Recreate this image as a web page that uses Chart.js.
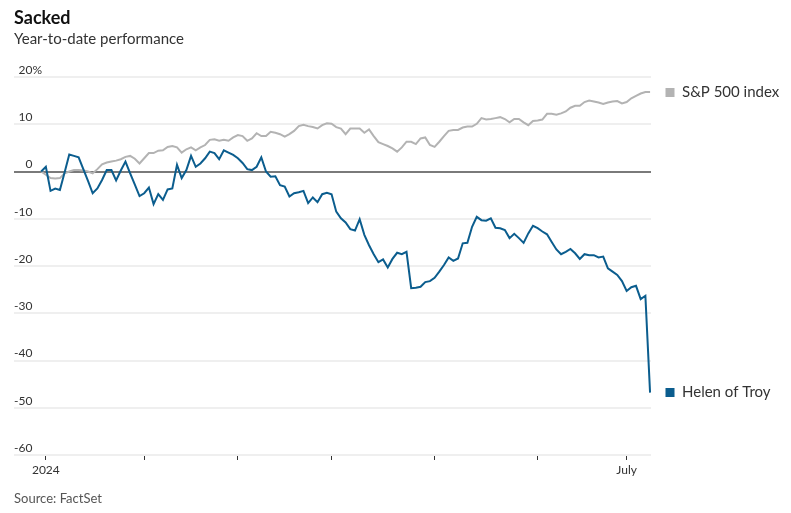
<!DOCTYPE html>
<html><head><meta charset="utf-8">
<script src="https://cdn.jsdelivr.net/npm/chart.js@4"></script>
<style>
html,body{margin:0;padding:0;background:#fff;}
#wrap{position:relative;width:791px;height:513px;overflow:hidden;font-family:Lato,sans-serif;}
canvas{position:absolute;left:0;top:0;}
.t{position:absolute;left:14px;white-space:nowrap;line-height:1;}
#title{top:8px;font-size:18px;font-weight:700;color:#111;}
#sub{top:31px;font-size:15px;color:#333;}
#src{top:492px;font-size:13px;color:#555;}
</style></head><body>
<div id="wrap">
<canvas id="c" width="791" height="513"></canvas>
<div class="t" id="title">Sacked</div>
<div class="t" id="sub">Year-to-date performance</div>
<div class="t" id="src">Source: FactSet</div>
</div>
<script>
// Trading days from Dec 29, 2023 (index 0) to Jul 9, 2024 (index 130)
const helenOfTroy = [
  0, 1.0, -4.1, -3.6, -3.9, -0.2, 3.6, 3.3, 3.0, 0.5,
  -2.0, -4.6, -3.6, -1.8, 0.3, 0.3, -1.9, 0.2, 2.1, -0.4,
  -2.8, -5.2, -4.6, -3.4, -6.9, -4.8, -6.0, -3.8, -3.6, 1.4,
  -1.4, 0.3, 3.3, 1.0, 1.7, 2.8, 4.2, 3.9, 2.6, 4.5,
  4.0, 3.5, 2.8, 1.8, 0.5, 0.3, 1.0, 3.0, 0.0, -1.1,
  -1.0, -2.9, -3.2, -5.3, -4.6, -4.4, -4.1, -6.7, -5.5, -6.5,
  -4.8, -4.5, -4.8, -8.5, -9.9, -10.8, -12.2, -12.5, -10.1, -13.4,
  -15.6, -17.5, -19.2, -18.6, -20.3, -18.5, -17.2, -17.5, -17.0, -24.7,
  -24.6, -24.4, -23.4, -23.2, -22.5, -21.2, -19.8, -18.2, -18.9, -18.4,
  -15.2, -15.1, -11.7, -9.6, -10.3, -10.4, -9.9, -11.9, -12.0, -12.4,
  -14.1, -13.2, -14.1, -15.1, -13.1, -11.5, -12.0, -12.7, -13.3, -14.9,
  -16.5, -17.5, -17.0, -16.4, -17.3, -18.5, -17.5, -17.7, -17.7, -18.2,
  -18.0, -20.5, -21.2, -21.9, -23.2, -25.3, -24.5, -24.2, -27.0, -26.3,
  -46.8
];
const sp500 = [
  0, -0.7, -1.4, -1.5, -1.4, -0.4, 0.0, 0.3, 0.3, 0.2,
  0.0, -0.4, 0.5, 1.5, 1.9, 2.1, 2.3, 2.6, 3.1, 3.3,
  2.7, 1.7, 2.8, 3.9, 3.9, 4.4, 4.5, 5.2, 5.4, 5.1,
  4.0, 4.7, 5.1, 4.5, 5.1, 5.6, 6.7, 6.8, 6.5, 6.7,
  6.5, 7.2, 7.7, 7.5, 6.5, 7.0, 8.1, 7.5, 7.5, 8.4,
  8.2, 7.9, 7.4, 7.9, 8.6, 9.6, 9.9, 9.6, 9.4, 9.1,
  9.8, 10.2, 10.1, 9.4, 9.1, 7.9, 9.1, 9.1, 9.1, 8.2,
  8.9, 7.5, 6.2, 5.8, 5.4, 4.9, 4.2, 5.1, 6.3, 6.3,
  5.8, 7.0, 7.2, 5.6, 5.2, 6.3, 7.5, 8.6, 8.8, 8.8,
  9.3, 9.5, 9.5, 10.1, 11.3, 11.0, 11.1, 11.3, 11.5, 11.1,
  10.4, 11.1, 11.1, 10.4, 9.8, 10.7, 10.8, 11.0, 12.2, 12.2,
  12.0, 12.3, 12.7, 13.5, 13.9, 13.9, 14.7, 15.0, 14.8, 14.6,
  14.3, 14.6, 14.8, 14.9, 14.4, 14.7, 15.5, 16.0, 16.5, 16.8,
  16.8
];
const seriesNames = ['Helen of Troy', 'S&P 500 index'];
const yTickValues = [20, 10, 0, -10, -20, -30, -40, -50, -60];
const yTickLabels = ['20', '10', '0', '-10', '-20', '-30', '-40', '-50', '-60'];
const yUnit = '%';
// first trading day of each month (index into the series)
const xTickIndex = [1, 22, 42, 62, 84, 106, 125];
const xTickLabels = ['2024', '', '', '', '', '', 'July'];

const FONT = 'Lato, sans-serif';
const colors = ['#0b5d8e', '#b3b3b3'];

const endLabels = {
  id: 'endLabels',
  afterDatasetsDraw(chart) {
    const ctx = chart.ctx;
    const ys = chart.scales.y;
    ctx.save();
    chart.data.datasets.forEach((ds, i) => {
      const last = ds.data[ds.data.length - 1].y;
      const y = ys.getPixelForValue(last);
      ctx.fillStyle = colors[i];
      ctx.fillRect(665.5, Math.round(y - 4.5), 9, 9);
      ctx.fillStyle = '#333';
      ctx.font = '15px ' + FONT;
      ctx.textBaseline = 'middle';
      ctx.textAlign = 'left';
      ctx.fillText(ds.label, 682, y);
    });
    // unit after the top tick label
    ctx.font = '12px ' + FONT;
    let widest = 0;
    yTickLabels.forEach(l => { widest = Math.max(widest, ctx.measureText(l).width); });
    ctx.fillStyle = '#333';
    ctx.textBaseline = 'middle';
    ctx.textAlign = 'left';
    ctx.fillText(yUnit, ys.right + widest, ys.getPixelForValue(yTickValues[0]) - 7);
    ctx.restore();
  }
};

new Chart(document.getElementById('c'), {
  type: 'line',
  data: {
    datasets: [
      { label: seriesNames[0], data: helenOfTroy.map((v, i) => ({x: i, y: v})),
        borderColor: colors[0], borderWidth: 2, pointRadius: 0, tension: 0 },
      { label: seriesNames[1], data: sp500.map((v, i) => ({x: i, y: v})),
        borderColor: colors[1], borderWidth: 2, pointRadius: 0, tension: 0 }
    ]
  },
  options: {
    responsive: false,
    animation: false,
    devicePixelRatio: 1,
    layout: { padding: { left: 14, right: 140, top: 77, bottom: 28 } },
    plugins: { legend: { display: false }, tooltip: { enabled: false } },
    scales: {
      x: {
        type: 'linear',
        min: -5.8, max: 130.2,
        afterBuildTicks: s => { s.ticks = xTickIndex.map(v => ({ value: v })); },
        afterFit: s => { s.height = 30; },
        border: { display: false },
        grid: { drawOnChartArea: false, drawTicks: true, tickLength: 5, tickColor: '#333', tickWidth: 1 },
        ticks: {
          autoSkip: false, maxRotation: 0, padding: 3,
          color: '#333', font: { family: FONT, size: 12 },
          callback: (v, i) => xTickLabels[i]
        }
      },
      y: {
        min: -60, max: 20,
        afterBuildTicks: s => { s.ticks = yTickValues.map(v => ({ value: v })); },
        afterFit: s => { s.width = 0; },
        border: { display: false },
        grid: {
          drawTicks: false,
          color: c => c.tick && c.tick.value === 0 ? '#7a7a7a' : '#efefef',
          lineWidth: 2
        },
        ticks: {
          mirror: true, crossAlign: 'far', padding: 0, labelOffset: -7,
          color: '#333', font: { family: FONT, size: 12 },
          callback: (v, i) => yTickLabels[i]
        }
      }
    }
  },
  plugins: [endLabels]
});
</script>
</body></html>
